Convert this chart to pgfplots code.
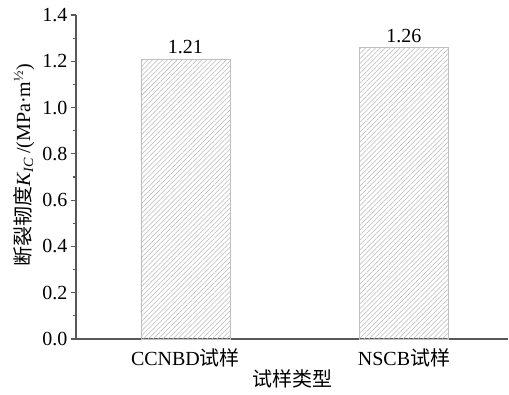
\documentclass[border=0pt]{standalone}
\usepackage{fontspec}
\setmainfont{Liberation Serif}
\newfontfamily\cjk{Noto Sans CJK SC}
\usepackage{pgfplots}
\pgfplotsset{compat=1.18}
\usetikzlibrary{patterns.meta}
\begin{document}
\begin{tikzpicture}
\begin{axis}[
  name=ax,
  scale only axis,
  width=324pt, height=243pt,
  xmin=-0.501, xmax=1.476,
  ymin=0, ymax=1.4,
  axis x line*=bottom, axis y line*=left,
  axis line style={-, draw=black!65, line width=0.8pt},
  xtick={0,1},
  xticklabels={CCNBD{\cjk 试样}, NSCB{\cjk 试样}},
  x tick style={draw=none},
  ytick={0,0.2,...,1.4},
  minor y tick num=1,
  y tick style={draw=black!65, line width=0.8pt},
  major tick length=4pt, minor tick length=2.5pt,
  tick align=outside,
  yticklabel style={/pgf/number format/fixed, /pgf/number format/precision=1, /pgf/number format/fixed zerofill, xshift=1pt},
  /pgf/number format/assume math mode=true,
  tick label style={font=\fontsize{15}{17}\selectfont},
  label style={font=\fontsize{15}{17}\selectfont},
  xlabel={{\cjk 试样类型}},
  ylabel={{\cjk 断裂韧度}\textit{K}\textsubscript{\textit{IC}}\,/(MPa·m\textsuperscript{½})},
  xlabel style={yshift=5pt},
  ylabel style={at={(ticklabel cs:0.537)}, yshift=-1pt},
  ybar, bar width=66.75pt,
  nodes near coords,
  nodes near coords style={font=\fontsize{15}{17}\selectfont, /pgf/number format/fixed, /pgf/number format/precision=2, /pgf/number format/fixed zerofill},
]
\addplot[draw=black!25, line width=0.6pt, pattern={Lines[angle=45,distance=2.6pt,line width=0.4pt]}, pattern color=black!28]
  coordinates {(0,1.21) (1,1.26)};
\end{axis}
\pgfresetboundingbox
\path (ax.south west) ++(-57pt,-41.25pt) rectangle ++(381.75pt,295.5pt);
\end{tikzpicture}
\end{document}
